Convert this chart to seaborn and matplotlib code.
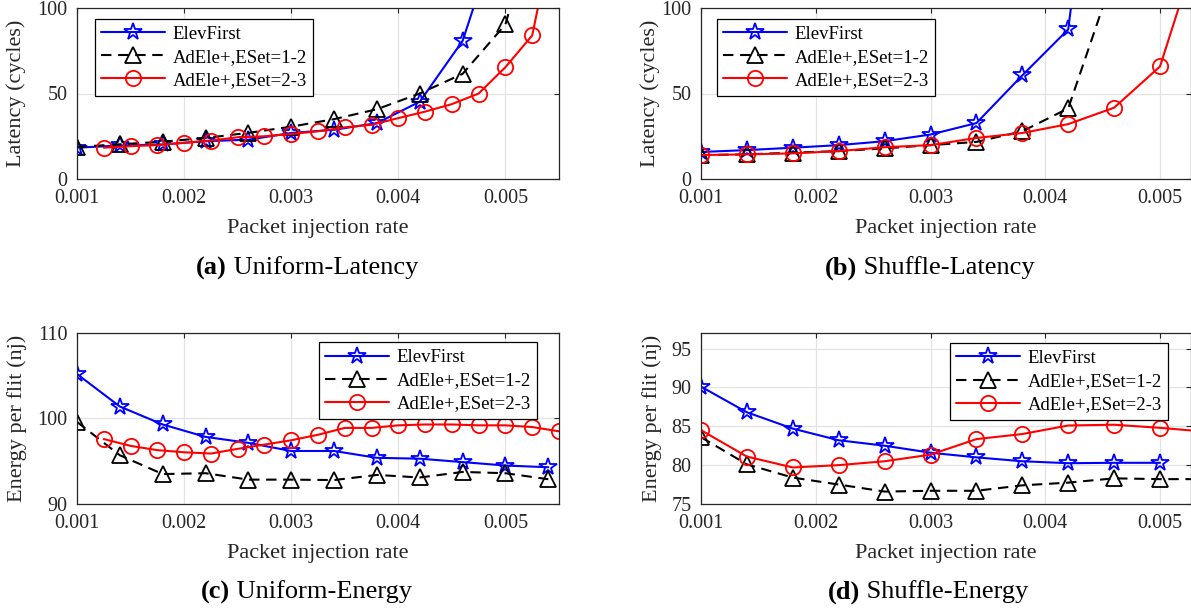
import numpy as np
import pandas as pd
import matplotlib
matplotlib.use("Agg")
import matplotlib.pyplot as plt
import seaborn as sns

# ---------------- data ----------------
series_names = ["ElevFirst", "AdEle+,ESet=1-2", "AdEle+,ESet=2-3"]

# (a) Uniform-Latency
a_x_elev = [0.001, 0.0014, 0.0018, 0.0022, 0.0026, 0.003, 0.0034, 0.0038, 0.0042, 0.0046, 0.005]
a_y_elev = [18.3, 19.6, 20.2, 22.1, 23.0, 26.9, 28.8, 32.7, 45.2, 80.8, 157]
a_x_e12 = [0.001, 0.0014, 0.0018, 0.0022, 0.0026, 0.003, 0.0034, 0.0038, 0.0042, 0.0046, 0.005, 0.0054]
a_y_e12 = [18.8, 20.3, 21.8, 24.0, 27.0, 30.6, 35.0, 40.8, 50.0, 61.5, 90.4, 180]
a_x_e23 = [0.00125, 0.0015, 0.00175, 0.002, 0.00225, 0.0025, 0.00275, 0.003, 0.00325,
           0.0035, 0.00375, 0.004, 0.00425, 0.0045, 0.00475, 0.005, 0.00525, 0.0055]
a_y_e23 = [18.3, 19.2, 19.8, 21.2, 22.5, 24.4, 25.0, 26.3, 27.9, 30.2, 31.7, 35.6, 39.4,
           43.8, 50.0, 65.4, 84.0, 160]

# (b) Shuffle-Latency
b_x_elev = [0.001, 0.0014, 0.0018, 0.0022, 0.0026, 0.003, 0.0034, 0.0038, 0.0042, 0.0046]
b_y_elev = [15.8, 16.9, 18.3, 19.8, 22.1, 26.0, 32.7, 60.6, 87.5, 300]
b_x_e12 = [0.001, 0.0014, 0.0018, 0.0022, 0.0026, 0.003, 0.0034, 0.0038, 0.0042, 0.0046]
b_y_e12 = [14.0, 14.4, 15.4, 16.3, 17.9, 19.8, 21.7, 27.9, 41.3, 120]
b_x_e23 = [0.001, 0.0014, 0.0018, 0.0022, 0.0026, 0.003, 0.0034, 0.0038, 0.0042, 0.0046, 0.005, 0.0054]
b_y_e23 = [14.0, 14.4, 15.0, 16.3, 18.6, 19.8, 24.0, 26.9, 32.1, 41.7, 65.8, 150]

# (c) Uniform-Energy
c_x_elev = [0.001, 0.0014, 0.0018, 0.0022, 0.0026, 0.003, 0.0034, 0.0038, 0.0042, 0.0046, 0.005, 0.0054]
c_y_elev = [105.2, 101.4, 99.3, 97.85, 97.15, 96.2, 96.2, 95.4, 95.3, 94.9, 94.5, 94.3]
c_x_e12 = [0.001, 0.0014, 0.0018, 0.0022, 0.0026, 0.003, 0.0034, 0.0038, 0.0042, 0.0046, 0.005, 0.0054]
c_y_e12 = [99.6, 95.7, 93.5, 93.6, 92.85, 92.85, 92.8, 93.4, 93.1, 93.75, 93.6, 92.9]
c_x_e23 = [0.00125, 0.0015, 0.00175, 0.002, 0.00225, 0.0025, 0.00275, 0.003, 0.00325,
           0.0035, 0.00375, 0.004, 0.00425, 0.0045, 0.00475, 0.005, 0.00525, 0.0055]
c_y_e23 = [97.6, 96.8, 96.3, 96.05, 95.9, 96.45, 96.95, 97.45, 98.1, 98.9, 98.9, 99.2, 99.3,
           99.3, 99.2, 99.2, 99.0, 98.5]

# (d) Shuffle-Energy
d_x_elev = [0.001, 0.0014, 0.0018, 0.0022, 0.0026, 0.003, 0.0034, 0.0038, 0.0042, 0.0046, 0.005]
d_y_elev = [90.1, 86.8, 84.7, 83.2, 82.5, 81.6, 81.0, 80.5, 80.25, 80.3, 80.3]
d_x_e12 = [0.001, 0.0014, 0.0018, 0.0022, 0.0026, 0.003, 0.0034, 0.0038, 0.0042, 0.0046, 0.005, 0.0054]
d_y_e12 = [83.6, 80.1, 78.4, 77.5, 76.6, 76.7, 76.7, 77.4, 77.75, 78.3, 78.2, 78.2]
d_x_e23 = [0.001, 0.0014, 0.0018, 0.0022, 0.0026, 0.003, 0.0034, 0.0038, 0.0042, 0.0046, 0.005, 0.0054]
d_y_e23 = [84.5, 81.1, 79.7, 80.0, 80.5, 81.35, 83.35, 84.0, 85.1, 85.2, 84.8, 84.3]

x_ticks = [0.001, 0.002, 0.003, 0.004, 0.005]
x_tick_labels = ["0.001", "0.002", "0.003", "0.004", "0.005"]
lat_ticks = [0, 50, 100]
c_ticks = [90, 100, 110]
d_ticks = [75, 80, 85, 90, 95]

xlabel_text = "Packet injection rate"
ylabel_lat = "Latency (cycles)"
ylabel_en = "Energy per flit (nj)"
captions = [("(a)", "Uniform-Latency"), ("(b)", "Shuffle-Latency"),
            ("(c)", "Uniform-Energy"), ("(d)", "Shuffle-Energy")]

# ---------------- style ----------------
sns.set_style("white")
plt.rcParams["font.family"] = ["Liberation Serif", "DejaVu Serif"]
plt.rcParams["axes.unicode_minus"] = False

W, H = 1191, 610
fig = plt.figure(figsize=(W / 100, H / 100), dpi=100)

def px_axes(left, right, top, bottom):
    return fig.add_axes([left / W, 1 - bottom / H, (right - left) / W, (bottom - top) / H])

styles = [
    dict(color="#0000ff", marker="*", markersize=13, linestyle="-"),
    dict(color="#000000", marker="^", markersize=11, linestyle="--"),
    dict(color="#ff0000", marker="o", markersize=11, linestyle="-"),
]

TXT = "#262626"

def draw_panel(ax, series, xlim, ylim, yticks, ylabel, legend_loc, legend_anchor, ylabel_x):
    for (xs, ys), name, st in zip(series, series_names, styles):
        df = pd.DataFrame({"rate": xs, "val": ys})
        sns.lineplot(data=df, x="rate", y="val", ax=ax, color=st["color"],
                     marker=st["marker"], markersize=st["markersize"],
                     markerfacecolor="none", markeredgecolor=st["color"],
                     markeredgewidth=1.3, linewidth=1.5, label=name, sort=True,
                     estimator=None)
        line = ax.get_lines()[-1]
        if st["linestyle"] == "--":
            line.set_dashes((5, 3.2))
    ax.set_xlim(*xlim)
    ax.set_ylim(*ylim)
    ax.set_xticks(x_ticks)
    ax.set_xticklabels(x_tick_labels)
    ax.set_yticks(yticks)
    ax.set_yticklabels([str(t) for t in yticks])
    ax.grid(True, color="#e3e3e3", linewidth=0.9)
    ax.set_axisbelow(True)
    ax.tick_params(direction="in", top=True, right=True, length=3.5, width=0.8,
                   labelsize=14.5, colors=TXT, pad=7)
    for s in ax.spines.values():
        s.set_color(TXT)
        s.set_linewidth(0.9)
        s.set_visible(True)
    ax.set_xlabel(xlabel_text, fontsize=16, color=TXT, va="center")
    ax.xaxis.set_label_coords(0.5, -0.287)
    ax.set_ylabel(ylabel, fontsize=16, color=TXT, va="center")
    ax.yaxis.set_label_coords(ylabel_x, 0.5)
    leg = ax.legend(loc=legend_loc, bbox_to_anchor=legend_anchor, borderaxespad=0,
                    fontsize=13.5, handlelength=3.4, handletextpad=0.4,
                    labelspacing=0.32, borderpad=0.35, fancybox=False,
                    framealpha=1, edgecolor="#000000")
    leg.get_frame().set_linewidth(0.9)
    for t in leg.get_texts():
        t.set_color("#000000")

ax_a = px_axes(77, 559, 8, 179)
draw_panel(ax_a, [(a_x_elev, a_y_elev), (a_x_e12, a_y_e12), (a_x_e23, a_y_e23)],
           (0.001, 0.0055), (0, 100), lat_ticks, ylabel_lat,
           "upper left", (0.037, 0.935), (16 - 77) / 482)

ax_b = px_axes(701, 1191, 8, 179)
draw_panel(ax_b, [(b_x_elev, b_y_elev), (b_x_e12, b_y_e12), (b_x_e23, b_y_e23)],
           (0.001, 0.00527), (0, 100), lat_ticks, ylabel_lat,
           "upper left", (0.032, 0.935), (650 - 701) / 490)

ax_c = px_axes(77, 559, 333, 504)
draw_panel(ax_c, [(c_x_elev, c_y_elev), (c_x_e12, c_y_e12), (c_x_e23, c_y_e23)],
           (0.001, 0.0055), (90, 110), c_ticks, ylabel_en,
           "upper right", (0.955, 0.945), (17 - 77) / 482)

ax_d = px_axes(701, 1191, 333, 504)
draw_panel(ax_d, [(d_x_elev, d_y_elev), (d_x_e12, d_y_e12), (d_x_e23, d_y_e23)],
           (0.001, 0.00527), (75, 97), d_ticks, ylabel_en,
           "upper right", (0.954, 0.94), (652 - 701) / 490)

# captions
renderer = fig.canvas.get_renderer()
cap_pos = [(307, 268), (930, 268), (306, 592), (928, 592)]
for (tag, txt), (cx, cy) in zip(captions, cap_pos):
    t1 = fig.text(0, 1 - cy / H, tag, fontsize=19, weight="bold", va="center", color="#000000")
    t2 = fig.text(0, 1 - cy / H, " " + txt, fontsize=19, va="center", color="#000000")
    w1 = t1.get_window_extent(renderer).width
    w2 = t2.get_window_extent(renderer).width
    x0 = cx - (w1 + w2) / 2
    t1.set_x(x0 / W)
    t2.set_x((x0 + w1) / W)

fig.savefig("out.png", dpi=100)
